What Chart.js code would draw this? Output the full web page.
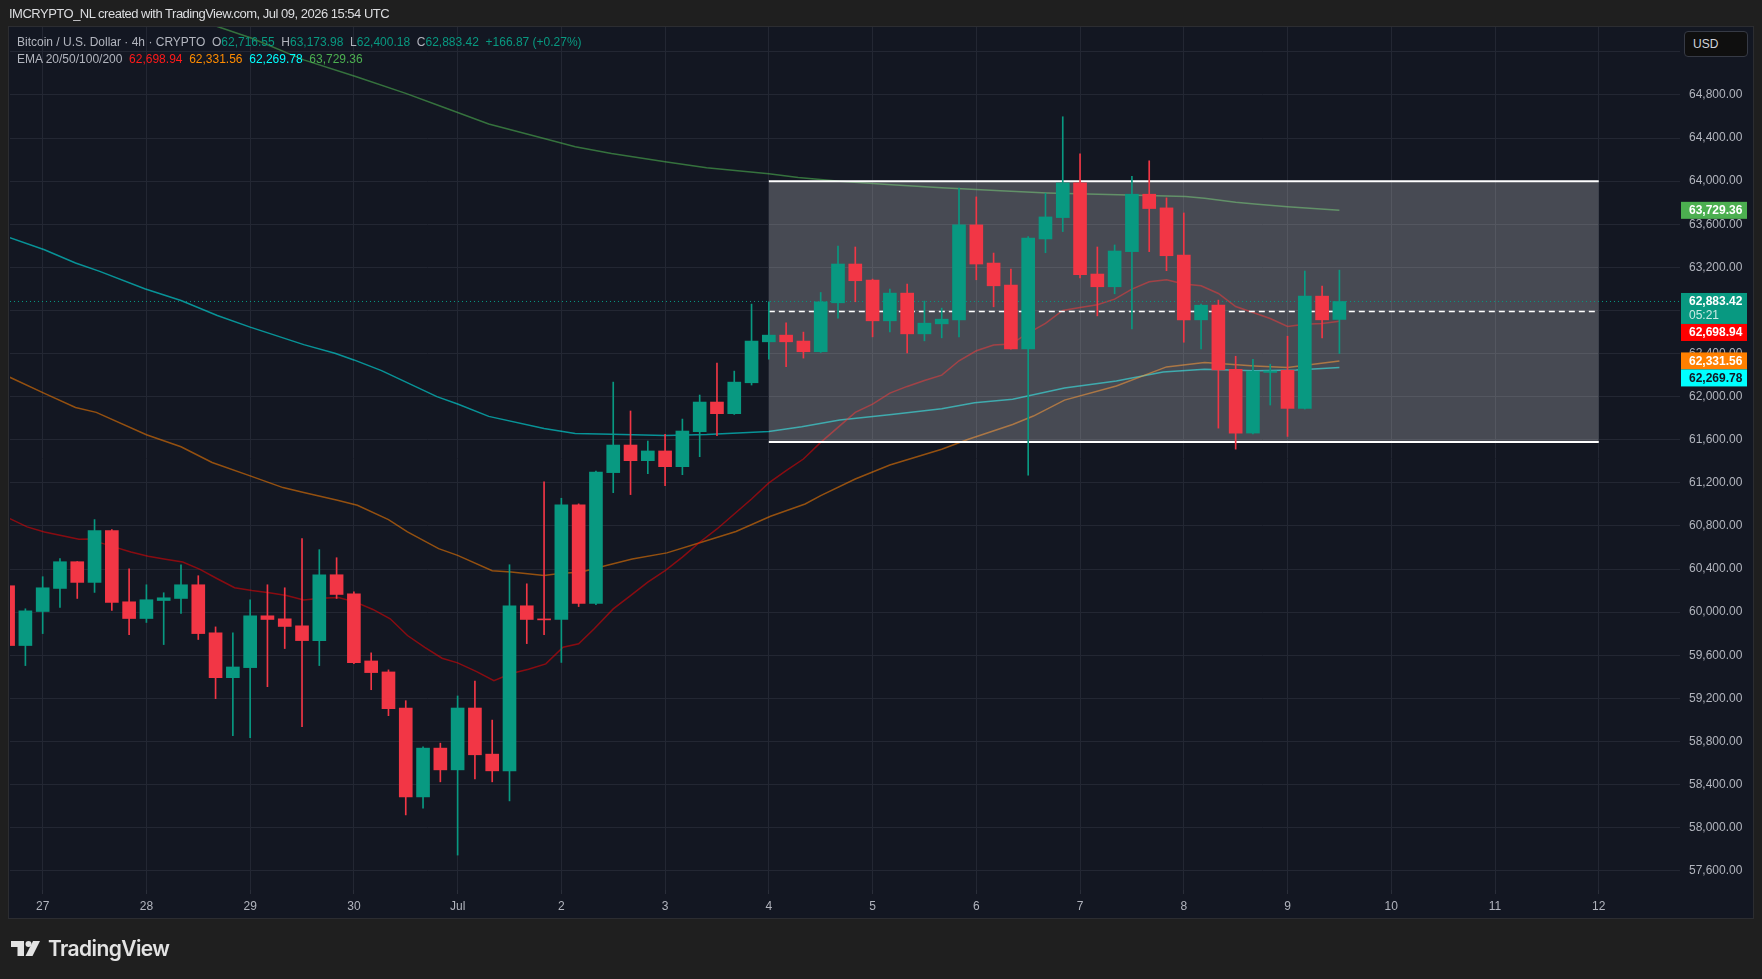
<!DOCTYPE html>
<html>
<head>
<meta charset="utf-8">
<script src="https://cdn.jsdelivr.net/npm/chart.js@4.4.1/dist/chart.umd.min.js"></script>
<style>
    html, body {
        margin: 0;
        padding: 0;
        width: 1762px;
        height: 979px;
        overflow: hidden;
        background: #1f1f1f;
        font-family: "Liberation Sans", Arial, sans-serif;
    }
    #pane {
        position: absolute;
        left: 8px;
        top: 26px;
        width: 1744px;
        height: 891px;
        background: #131722;
        border: 1px solid #2c2d31;
    }
    #chart {
        position: absolute;
        left: 0;
        top: 0;
    }
    #credit {
        position: absolute;
        left: 9px;
        top: 6px;
        color: #dcdde0;
        font-size: 13px;
        letter-spacing: -0.5px;
    }
    #legend {
        position: absolute;
        left: 17px;
        top: 34px;
        font-size: 12px;
        line-height: 17px;
        color: #b2b5be;
        white-space: pre;
    }
    #legend .up { color: #089981; }
    #usd {
        position: absolute;
        left: 1684px;
        top: 31px;
        width: 62px;
        height: 24px;
        border: 1px solid #363a45;
        border-radius: 4px;
        background: #0f0f0f;
        color: #d1d4dc;
        font-size: 12px;
        line-height: 24px;
        box-sizing: content-box;
    }
    #usd span { margin-left: 8px; }
    #logo {
        position: absolute;
        left: 11px;
        top: 936px;
        height: 24px;
        display: flex;
        align-items: center;
        color: #e3e3e3;
        font-family: Inter, Roboto, sans-serif;
        font-weight: 600;
        font-size: 21px;
        letter-spacing: -0.6px;
    }
    #logo svg { margin-right: 8px; }
</style>
</head>
<body>
<div id="pane"></div>
<canvas id="chart" width="1762" height="979"></canvas>
<div id="credit">IMCRYPTO_NL created with TradingView.com, Jul 09, 2026 15:54 UTC</div>
<div id="legend"></div>
<div id="usd"><span>USD</span></div>
<div id="logo">
    <svg width="29" height="15" viewBox="0 0 29 15">
        <path d="M0 0H13V15H6.5V6H0Z" fill="#e3e3e3"/>
        <circle cx="17.5" cy="3" r="3" fill="#e3e3e3"/>
        <path d="M22 0H29L21.5 15H14.5Z" fill="#e3e3e3"/>
    </svg>
    TradingView
</div>
<script>
// 4h candles, index 0 = Jun 26 16:00 UTC, one row per day
const opens = [
    60245, 59690,
    60006, 60220, 60468, 60276, 60757, 60096,
    59941, 60108, 60127, 60254, 59808, 59392,
    59485, 59966, 59938, 59873, 59736, 60347,
    60170, 59547, 59445, 59110, 58285, 58738,
    58536, 59110, 58682, 58527, 60059, 59935,
    59932, 60995, 60080, 61295, 61551, 61406,
    61496, 61350, 61675, 61950, 61842, 62129,
    62509, 62571, 62516, 62417, 62871, 63231,
    63082, 62704, 62961, 62583, 62676, 62713,
    63594, 63240, 63036, 62443, 63464, 63662,
    63984, 63138, 63020, 63346, 63879, 63752,
    63315, 62713, 62849, 62254, 61662, 62225,
    62245, 61891, 62933, 62716.55
];
const highs = [
    60300, 60031,
    60329, 60496, 60470, 60859, 60766, 60403,
    60254, 60180, 60440, 60338, 59863, 59808,
    60115, 60254, 60226, 60682, 60580, 60505,
    60189, 59622, 59464, 59178, 58750, 58784,
    59222, 59361, 58998, 60440, 60263, 61210,
    61057, 61005, 61310, 62135, 61867, 61588,
    61650, 61792, 62015, 62312, 62237, 62859,
    62880, 62686, 62599, 62967, 63398, 63389,
    63091, 62998, 63045, 62887, 62822, 63935,
    63854, 63333, 63184, 63485, 63888, 64598,
    64254, 63389, 63408, 64046, 64189, 63845,
    63705, 62859, 62896, 62375, 62347, 62301,
    62561, 63166, 63026, 63173.98
];
const lows = [
    59600, 59504,
    59801, 60043, 60127, 60183, 60015, 59792,
    59904, 59699, 59988, 59746, 59197, 58853,
    58834, 59308, 59662, 58936, 59504, 60127,
    59522, 59280, 59039, 58118, 58180, 58425,
    57745, 58453, 58425, 58248, 59708, 59792,
    59533, 60052, 60070, 61109, 61091, 61285,
    61174, 61276, 61443, 61638, 61835, 62108,
    62349, 62278, 62358, 62410, 62729, 62881,
    62555, 62601, 62406, 62518, 62546, 62555,
    63085, 62834, 62440, 61271, 63336, 63532,
    63101, 62750, 62955, 62629, 63346, 63169,
    62505, 62443, 61708, 61513, 61653, 61922,
    61631, 61885, 62546, 62400.18
];
const closes = [
    59690, 60012,
    60226, 60468, 60276, 60757, 60090, 59941,
    60115, 60133, 60254, 59801, 59392, 59491,
    59966, 59932, 59867, 59736, 60347, 60164,
    59532, 59439, 59104, 58285, 58738, 58536,
    59110, 58676, 58527, 60059, 59932, 59928,
    60995, 60080, 61301, 61551, 61406, 61496,
    61350, 61681, 61950, 61842, 62135, 62516,
    62571, 62509, 62417, 62880, 63231, 63076,
    62704, 62961, 62583, 62682, 62719, 63594,
    63231, 63029, 62443, 63473, 63668, 63984,
    63132, 63020, 63352, 63879, 63746, 63308,
    62713, 62849, 62248, 61662, 62235, 62238,
    61891, 62933, 62713, 62883.42
];

// EMA lines: [candle index, price]
const ema20 = [
    [0.1, 60868], [1.1, 60791], [2.1, 60744], [3, 60713], [4.1, 60676], [4.6, 60679], [5.5, 60636],
    [7.1, 60558], [8.1, 60518], [9.1, 60490], [10.1, 60465], [11.1, 60397], [12.1, 60310],
    [13.1, 60226], [14.1, 60201], [15.1, 60180], [16.1, 60155], [17.1, 60112], [18.1, 60130],
    [19.1, 60136], [20.1, 60093], [21.1, 60025], [22.1, 59938], [23.1, 59783], [24.1, 59674],
    [25.1, 59572], [26, 59529], [27.1, 59448], [28.1, 59363], [29.1, 59430], [30.1, 59470],
    [31.1, 59520], [32.1, 59675], [33, 59706], [33.9, 59845], [35, 60030], [36, 60154],
    [37, 60278], [38, 60386], [39, 60510], [40, 60649], [41, 60772], [42, 60911], [43, 61050],
    [44, 61199], [45, 61313], [46, 61421], [47, 61576], [48, 61715], [49, 61854], [50, 61931],
    [51, 62033], [52, 62095], [53, 62150], [54, 62200], [55, 62333], [56, 62426], [57, 62479],
    [58, 62488], [59, 62590], [60, 62680], [61, 62800], [62, 62828], [63, 62853], [64, 62905],
    [65, 62998], [66, 63067], [67, 63085], [68, 63045], [69, 63029], [70, 62958], [71, 62837],
    [72, 62781], [73, 62725], [74, 62651], [75, 62673], [76, 62679], [77, 62698.94]
];
const ema50 = [
    [0.1, 62180], [2.1, 62031], [3.9, 61900], [5.1, 61854], [8, 61646], [10, 61535],
    [11.8, 61389], [14, 61265], [15.9, 61156], [17.1, 61110], [19.05, 61039], [20.2, 60992],
    [22, 60859], [23.1, 60744], [24.9, 60589], [26, 60527], [28, 60385], [29.1, 60372],
    [31, 60340], [32, 60360], [33.1, 60370], [34.6, 60432], [36.1, 60494], [38.1, 60550],
    [40.1, 60649], [42.1, 60748], [44.1, 60890], [46.1, 61004], [47, 61081], [49, 61236],
    [51, 61366], [54, 61512], [55.5, 61603], [58.1, 61742], [59.3, 61820], [61.1, 61968],
    [64.1, 62099], [67, 62276], [69.2, 62316], [72.1, 62285], [74, 62270], [77, 62331.56]
];
const ema100 = [
    [0.1, 63476], [2.1, 63364], [3.9, 63240], [5.3, 63163], [7.9, 63001], [10, 62893],
    [12.1, 62753], [14, 62645], [17.1, 62483], [18.9, 62403], [20, 62341], [21.6, 62242],
    [24.8, 62000], [26, 61932], [27.8, 61817], [31, 61705], [32.8, 61659], [34.9, 61650],
    [38, 61640], [40.4, 61648], [44, 61677], [45.9, 61721], [48.1, 61783], [51.1, 61835],
    [54, 61888], [55.9, 61944], [58.1, 61975], [61.1, 62081], [64.1, 62146], [66.8, 62229],
    [69.2, 62254], [72.1, 62240], [74.5, 62248], [77, 62269.78]
];
const ema200 = [
    [11, 65480], [12.1, 65436], [14.1, 65327], [17.1, 65126], [20.1, 64971], [23, 64815],
    [25.1, 64691], [27.8, 64530], [31, 64397], [32.8, 64319], [34.9, 64257], [38, 64180],
    [40.4, 64125], [44, 64070], [45.7, 64034], [48.1, 64000], [51.1, 63966], [54, 63938],
    [57.4, 63910], [60.1, 63891], [64.2, 63875], [68.1, 63857], [69.2, 63842], [71, 63805],
    [72.1, 63789], [74, 63762], [77, 63729.36]
];

// range box drawing (Jul 4 00:00 -> Jul 12 00:00)
const boxFrom = 44;
const boxTo = 92;
const boxTop = 64000;
const boxBottom = 61580;
const boxMid = 62790;

// axes
const dayTicks = [2, 8, 14, 20, 26, 32, 38, 44, 50, 56, 62, 68, 74, 80, 86, 92];
const dayLabels = ['27', '28', '29', '30', 'Jul', '2', '3', '4', '5', '6', '7', '8', '9', '10', '11', '12'];
const priceTicks = [57600, 58000, 58400, 58800, 59200, 59600, 60000, 60400, 60800, 61200,
    61600, 62000, 62400, 62800, 63200, 63600, 64000, 64400, 64800, 65200];
const xMin = 0.11;
const xMax = 96.7;
const yMin = 57421;
const yMax = 65431;

const prevClose = 62716.55;
const countdown = '05:21';

const UP = '#089981';
const DOWN = '#f23645';

function fmt(v) {
    return v.toLocaleString('en-US', {minimumFractionDigits: 2, maximumFractionDigits: 2});
}

const last = closes.length - 1;
const lastClose = closes[last];
const change = lastClose - prevClose;

// header legend
document.getElementById('legend').innerHTML =
    'Bitcoin / U.S. Dollar · 4h · CRYPTO  O<span class="up">' + fmt(opens[last]) +
    '</span>  H<span class="up">' + fmt(highs[last]) +
    '</span>  L<span class="up">' + fmt(lows[last]) +
    '</span>  C<span class="up">' + fmt(lastClose) +
    '</span>  <span class="up">+' + fmt(change) + ' (+' + (change / prevClose * 100).toFixed(2) + '%)</span>\n' +
    'EMA 20/50/100/200  <span style="color:#ff1a1a">' + fmt(ema20[ema20.length - 1][1]) +
    '</span>  <span style="color:#ff8c00">' + fmt(ema50[ema50.length - 1][1]) +
    '</span>  <span style="color:#00ffff">' + fmt(ema100[ema100.length - 1][1]) +
    '</span>  <span style="color:#4caf50">' + fmt(ema200[ema200.length - 1][1]) + '</span>';

const candleColors = closes.map((c, i) => c >= opens[i] ? UP : DOWN);

function pts(arr) {
    return arr.map(p => ({x: p[0], y: p[1]}));
}

function emaSet(label, arr, color) {
    return {
        type: 'line',
        label: label,
        data: pts(arr),
        borderColor: color,
        borderWidth: 1.5,
        pointRadius: 0,
        tension: 0,
        order: 10,
    };
}

// price tags on the right axis
const priceTags = {
    id: 'priceTags',
    afterDraw(chart) {
        const ctx = chart.ctx;
        const y = chart.scales.y;
        const tags = [
            {v: ema200[ema200.length - 1][1], bg: '#4caf50', fg: '#ffffff'},
            {v: lastClose, bg: UP, fg: '#ffffff', sub: countdown},
            {v: ema20[ema20.length - 1][1], bg: '#ff0000', fg: '#ffffff'},
            {v: ema50[ema50.length - 1][1], bg: '#ff8000', fg: '#ffffff'},
            {v: ema100[ema100.length - 1][1], bg: '#00ffff', fg: '#131722'},
        ];
        tags.forEach(t => {
            t.h = t.sub ? 31 : 17;
            t.top = y.getPixelForValue(t.v) - 8.5;
        });
        tags.sort((a, b) => a.top - b.top);
        for (let k = 1; k < tags.length; k++) {
            const prev = tags[k - 1];
            if (tags[k].top < prev.top + prev.h) {
                tags[k].top = prev.top + prev.h;
            }
        }
        ctx.save();
        ctx.textBaseline = 'middle';
        tags.forEach(t => {
            ctx.font = 'bold 12px "Liberation Sans", Arial, sans-serif';
            ctx.fillStyle = t.bg;
            ctx.fillRect(1681, t.top, 66, t.h);
            ctx.fillStyle = t.fg;
            ctx.fillText(fmt(t.v), 1689, t.top + 9);
            if (t.sub) {
                ctx.font = '12px "Liberation Sans", Arial, sans-serif';
                ctx.fillStyle = 'rgba(255,255,255,0.8)';
                ctx.fillText(t.sub, 1689, t.top + 23);
            }
        });
        ctx.restore();
    }
};

Chart.defaults.font.family = '"Liberation Sans", Arial, sans-serif';
Chart.defaults.font.size = 12;
Chart.defaults.color = '#b2b5be';

const ctx = document.getElementById('chart');
new Chart(ctx, {
    type: 'bar',
    data: {
        datasets: [
            emaSet('EMA 20', ema20, 'rgba(255, 0, 0, 0.5)'),
            emaSet('EMA 50', ema50, 'rgba(255, 128, 0, 0.55)'),
            emaSet('EMA 100', ema100, 'rgba(0, 230, 230, 0.6)'),
            emaSet('EMA 200', ema200, 'rgba(76, 175, 80, 0.6)'),
            {
                type: 'line',
                label: 'box top',
                data: [{x: boxFrom, y: boxTop}, {x: boxTo, y: boxTop}],
                borderColor: '#ffffff',
                borderWidth: 2,
                pointRadius: 0,
                fill: '+1',
                backgroundColor: 'rgba(255, 255, 255, 0.225)',
                order: 9,
            },
            {
                type: 'line',
                label: 'box bottom',
                data: [{x: boxFrom, y: boxBottom}, {x: boxTo, y: boxBottom}],
                borderColor: '#ffffff',
                borderWidth: 2,
                pointRadius: 0,
                order: 9,
            },
            {
                type: 'line',
                label: 'box mid',
                data: [{x: boxFrom, y: boxMid}, {x: boxTo, y: boxMid}],
                borderColor: '#ffffff',
                borderWidth: 1.5,
                borderDash: [6, 4],
                pointRadius: 0,
                order: 8,
            },
            {
                type: 'line',
                label: 'last price',
                data: [{x: xMin, y: lastClose}, {x: xMax, y: lastClose}],
                borderColor: UP,
                borderWidth: 1,
                borderDash: [1, 3],
                pointRadius: 0,
                order: 8,
            },
            {
                label: 'wicks',
                data: lows.map((l, i) => ({x: i, y: [l, highs[i]]})),
                backgroundColor: candleColors,
                barThickness: 1,
                grouped: false,
                order: 2,
            },
            {
                label: 'bodies',
                data: opens.map((o, i) => ({x: i, y: [o, closes[i]]})),
                backgroundColor: candleColors,
                barThickness: 13,
                minBarLength: 1,
                grouped: false,
                order: 1,
            },
        ]
    },
    options: {
        responsive: false,
        devicePixelRatio: 1,
        animation: false,
        layout: {
            padding: {left: 10, top: 27, right: 10, bottom: 61}
        },
        scales: {
            x: {
                type: 'linear',
                min: xMin,
                max: xMax,
                offset: false,
                grid: {
                    color: '#232733',
                    offset: false,
                    tickLength: 4,
                    tickColor: '#2a2e39',
                },
                border: {display: false},
                afterBuildTicks: (scale) => {
                    scale.ticks = dayTicks.map(v => ({value: v}));
                },
                afterFit: (scale) => {
                    scale.height = 28;
                },
                ticks: {
                    autoSkip: false,
                    maxRotation: 0,
                    padding: 5,
                    callback: (v) => dayLabels[dayTicks.indexOf(v)],
                },
            },
            y: {
                position: 'right',
                min: yMin,
                max: yMax,
                grid: {
                    color: '#232733',
                    drawTicks: false,
                },
                border: {display: false},
                afterBuildTicks: (scale) => {
                    scale.ticks = priceTicks.map(v => ({value: v}));
                },
                afterFit: (scale) => {
                    scale.width = 72;
                },
                ticks: {
                    padding: 9,
                    callback: (v) => fmt(v),
                },
            },
        },
        plugins: {
            legend: {display: false},
            tooltip: {enabled: false},
        }
    },
    plugins: [priceTags]
});
</script>
</body>
</html>
